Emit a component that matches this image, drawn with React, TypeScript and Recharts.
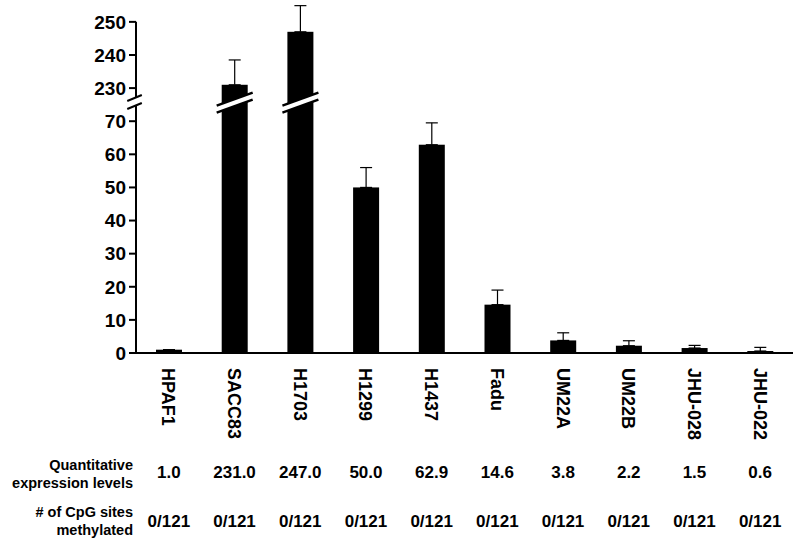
import React from "react";
import { BarChart, Bar, XAxis, YAxis, ErrorBar, ReferenceLine } from "recharts";

const cellLines = ["HPAF1", "SACC83", "H1703", "H1299", "H1437", "Fadu", "UM22A", "UM22B", "JHU-028", "JHU-022"];
const expressionLevels = [1.0, 231.0, 247.0, 50.0, 62.9, 14.6, 3.8, 2.2, 1.5, 0.6];
const expressionErrors = [0, 7.5, 7.9, 6.0, 6.6, 4.4, 2.3, 1.5, 0.8, 1.1];
const cpgMethylated = ["0/121", "0/121", "0/121", "0/121", "0/121", "0/121", "0/121", "0/121", "0/121", "0/121"];
const yTickValues = [0, 10, 20, 30, 40, 50, 60, 70, 230, 240, 250];

const FONT = "'Liberation Sans', Arial, Helvetica, sans-serif";

// broken axis: values above the break are drawn 150 units lower
const BREAK_SHIFT = 150;
const LOWER_END = 74.6; // display units where the lower axis piece stops
const UPPER_START = 77; // display units where the upper piece starts (227)
const BREAK_MID = 75.6;
const Y_MAX = 106;

const toDisplay = (v: number) => (v > 100 ? v - BREAK_SHIFT : v);
const fromDisplay = (d: number) => (d > BREAK_MID ? d + BREAK_SHIFT : d);

const data = cellLines.map((name, i) => ({
  name,
  level: expressionLevels[i],
  shown: toDisplay(expressionLevels[i]),
  err: [0, expressionErrors[i]],
}));

const CHART_W = 800;
const CHART_H = 544;
const MARGIN = { top: 2, right: 7, bottom: 0, left: 0 };
const AXIS_H = [100, 45, 46];
const PLOT_H = CHART_H - MARGIN.top - MARGIN.bottom - AXIS_H[0] - AXIS_H[1] - AXIS_H[2];
const PPU = PLOT_H / Y_MAX;

// y axis line with a gap at the break
const axisDash = [0, (Y_MAX - 100) * PPU, (100 - UPPER_START) * PPU, (UPPER_START - LOWER_END) * PPU, 1000].join(" ");

function BrokenBar(props: any) {
  const { x, y, width, height, fill } = props;
  const row = props.payload ?? props;
  const bar = <rect x={x} y={y} width={width} height={height} fill={fill} />;
  if (row.level <= 100) return bar;
  const by = y + height * (1 - BREAK_MID / row.shown);
  const rise = 6.5;
  const off = 3.5;
  const x1 = x - 5;
  const x2 = x + width + 5;
  return (
    <g>
      {bar}
      <polygon
        points={`${x1},${by + rise - off} ${x2},${by - rise - off} ${x2},${by - rise + off} ${x1},${by + rise + off}`}
        fill="#fff"
      />
      <line x1={x1} y1={by + rise - off} x2={x2} y2={by - rise - off} stroke="#000" strokeWidth={2.5} />
      <line x1={x1} y1={by + rise + off} x2={x2} y2={by - rise + off} stroke="#000" strokeWidth={2.5} />
    </g>
  );
}

function CellLineTick({ x, y, payload }: any) {
  return (
    <text
      transform={`translate(${x},${y}) rotate(90)`}
      dy="0.36em"
      textAnchor="start"
      fontSize={18}
      fontWeight="bold"
      fontFamily={FONT}
      fill="#000"
    >
      {payload.value}
    </text>
  );
}

function tableTick(values: string[], dy: number) {
  return ({ x, y, payload }: any) => {
    const i = cellLines.indexOf(payload.value);
    return (
      <text x={x} y={y + dy} dy="0.36em" textAnchor="middle" fontSize={17} fontWeight="bold" fontFamily={FONT} fill="#000">
        {values[i]}
      </text>
    );
  };
}

function rowLabel(lines: string[], firstDy: number) {
  return (props: any) => {
    const vb = props.viewBox || {};
    return (
      <text x={vb.x - 3} y={vb.y + firstDy} textAnchor="end" fontSize={14.5} fontWeight="bold" fontFamily={FONT} fill="#000">
        {lines.map((t, i) => (
          <tspan key={i} x={vb.x - 3} dy={i === 0 ? "0.36em" : 18}>
            {t}
          </tspan>
        ))}
      </text>
    );
  };
}

export default function App() {
  return (
    <div style={{ position: "absolute", left: 0, top: 0, width: CHART_W, height: CHART_H, background: "#fff" }}>
      <BarChart width={CHART_W} height={CHART_H} data={data} margin={MARGIN}>
        <XAxis
          dataKey="name"
          height={AXIS_H[0]}
          interval={0}
          tickLine={false}
          tickSize={0}
          tickMargin={15}
          axisLine={{ stroke: "#000", strokeWidth: 2 }}
          tick={CellLineTick}
        />
        <XAxis
          xAxisId="a1"
          dataKey="name"
          height={AXIS_H[1]}
          interval={0}
          axisLine={false}
          tickLine={false}
          tickSize={0}
          tickMargin={0}
          tick={tableTick(expressionLevels.map((v) => v.toFixed(1)), 19)}
          label={{ content: rowLabel(["Quantitative", "expression levels"], 12) }}
        />
        <XAxis
          xAxisId="a2"
          dataKey="name"
          height={AXIS_H[2]}
          interval={0}
          axisLine={false}
          tickLine={false}
          tickSize={0}
          tickMargin={0}
          tick={tableTick(cpgMethylated, 23)}
          label={{ content: rowLabel(["# of CpG sites", "methylated"], 14) }}
        />
        <XAxis xAxisId="num" type="number" domain={[0, 10]} allowDataOverflow hide height={0} />
        <YAxis
          width={136}
          domain={[0, Y_MAX]}
          ticks={yTickValues.map(toDisplay)}
          tickFormatter={(d: number) => String(fromDisplay(d))}
          tickSize={7}
          tickMargin={3}
          tickLine={{ stroke: "#000", strokeWidth: 2 }}
          axisLine={{ stroke: "#000", strokeWidth: 2, strokeDasharray: axisDash }}
          tick={{ fontSize: 19, fontWeight: "bold", fill: "#000", fontFamily: FONT }}
        />
        <Bar dataKey="shown" fill="#000" barSize={26} isAnimationActive={false} shape={BrokenBar}>
          <ErrorBar dataKey="err" direction="y" width={6} stroke="#000" strokeWidth={1.2} isAnimationActive={false} />
        </Bar>
        <ReferenceLine
          xAxisId="num"
          segment={[{ x: -0.12, y: UPPER_START - 0.9 }, { x: 0.08, y: UPPER_START + 0.9 }]}
          stroke="#000"
          strokeWidth={2}
          ifOverflow="visible"
        />
        <ReferenceLine
          xAxisId="num"
          segment={[{ x: -0.12, y: LOWER_END - 0.9 }, { x: 0.08, y: LOWER_END + 0.9 }]}
          stroke="#000"
          strokeWidth={2}
          ifOverflow="visible"
        />
      </BarChart>
    </div>
  );
}
